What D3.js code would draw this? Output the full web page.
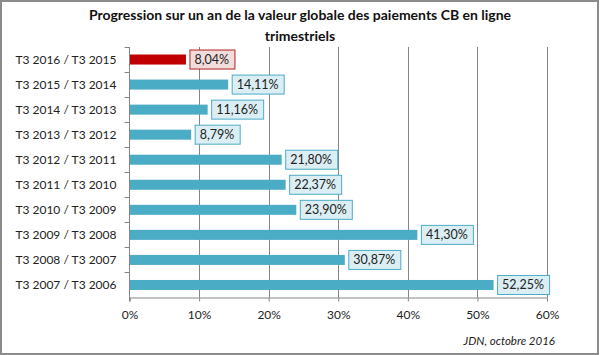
<!DOCTYPE html>
<html><head><meta charset="utf-8">
<script src="https://cdn.jsdelivr.net/npm/d3@7"></script>
<style>body{margin:0;background:#fff}svg{display:block}text{font-family:Lato,"Open Sans",sans-serif}</style>
</head><body>
<script>
const categories = ["T3 2016 / T3 2015","T3 2015 / T3 2014","T3 2014 / T3 2013","T3 2013 / T3 2012","T3 2012 / T3 2011","T3 2011 / T3 2010","T3 2010 / T3 2009","T3 2009 / T3 2008","T3 2008 / T3 2007","T3 2007 / T3 2006"];
const values = [8.04,14.11,11.16,8.79,21.80,22.37,23.90,41.30,30.87,52.25];
const highlight = [true,false,false,false,false,false,false,false,false,false];
const xTicks = [0,10,20,30,40,50,60];
const titleLines = ["Progression sur un an de la valeur globale des paiements CB en ligne","trimestriels"];
const source = "JDN, octobre 2016";

const W=600,H=355;
const svg=d3.select("body").append("svg").attr("width",W).attr("height",H);
svg.append("rect").attr("x",1).attr("y",1).attr("width",W-3).attr("height",H-2).attr("fill","#fff").attr("stroke","#8c8c8c").attr("stroke-width",2);

const x=d3.scaleLinear().domain([0,60]).range([129.5,547]);
const y=d3.scaleBand().domain(categories).range([47,297.5]).paddingInner(0.6).paddingOuter(0.3);

// gridlines
svg.append("g").selectAll("line").data(xTicks.slice(1)).join("line")
  .attr("x1",d=>Math.round(x(d))+0.5).attr("x2",d=>Math.round(x(d))+0.5)
  .attr("y1",47).attr("y2",297.5).attr("stroke","#868686").attr("stroke-width",1);

// x axis
const xa=svg.append("g").attr("transform","translate(0,297.5)")
  .call(d3.axisBottom(x).tickValues(xTicks).tickFormat(d=>d+"%").tickSize(4).tickPadding(9));
xa.select(".domain").attr("stroke","#868686");
xa.selectAll(".tick line").attr("stroke","#868686");
xa.selectAll("text").attr("font-size","12px").attr("fill","#222");

// y axis
const band=(297.5-47)/categories.length;
const ya=svg.append("g").attr("transform","translate(129.5,0)");
ya.append("line").attr("x1",0).attr("x2",0).attr("y1",47).attr("y2",301.5).attr("stroke","#868686");
ya.selectAll("line.t").data(d3.range(categories.length)).join("line").attr("class","t")
  .attr("x1",-5).attr("x2",0).attr("y1",i=>Math.round(47+i*band)+0.5).attr("y2",i=>Math.round(47+i*band)+0.5).attr("stroke","#868686");
ya.selectAll("text").data(categories).join("text")
  .attr("x",-13).attr("y",d=>y(d)+y.bandwidth()/2).attr("dy","0.35em")
  .attr("text-anchor","end").attr("font-size","12px").attr("fill","#222").text(d=>d);

// bars
svg.append("g").selectAll("rect").data(values).join("rect")
  .attr("x",x(0)+0.5).attr("y",(d,i)=>y(categories[i]))
  .attr("width",d=>x(d)-x(0)).attr("height",y.bandwidth())
  .attr("fill",(d,i)=>highlight[i]?"#c00000":"#4bacc6");

// labels
const fmt=v=>v.toFixed(2).replace(".",",")+"%";
const lg=svg.append("g").selectAll("g").data(values).join("g")
  .attr("transform",(d,i)=>`translate(${x(d)+4},${y(categories[i])+y.bandwidth()/2})`);
lg.append("text").attr("x",5).attr("dy","0.36em").attr("font-size","12.5px").attr("fill","#222").text(fmt);
lg.each(function(d,i){
  const g=d3.select(this); const w=g.select("text").node().getComputedTextLength();
  g.insert("rect","text").attr("x",0.5).attr("y",-9.5).attr("width",Math.round(w+10)).attr("height",19)
   .attr("fill",highlight[i]?"#f2dcdb":"#dbeef4").attr("stroke",highlight[i]?"#b02020":"#4bacc6").attr("stroke-width",1);
});

// title
svg.append("g").selectAll("text").data(titleLines).join("text")
  .attr("x",300).attr("y",(d,i)=>20+i*21).attr("text-anchor","middle")
  .attr("font-size","14px").attr("font-weight","bold").attr("fill","#111").text(d=>d);

svg.append("text").attr("x",555).attr("y",345).attr("text-anchor","end")
  .attr("font-size","11.5px").attr("font-style","italic").attr("fill","#222").text(source);
</script>
</body></html>
